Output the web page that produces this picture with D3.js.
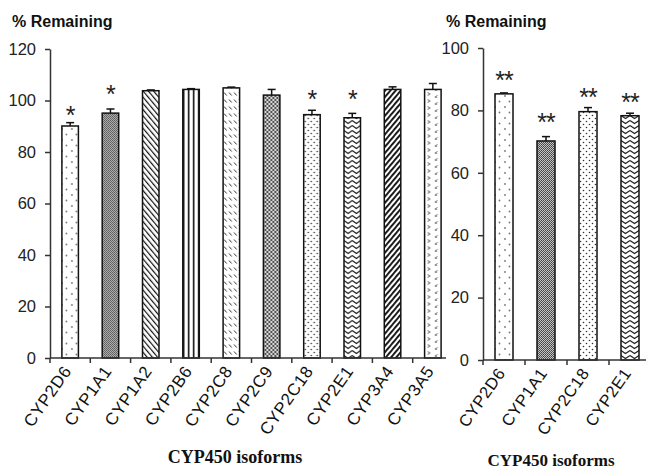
<!DOCTYPE html>
<html>
<head>
<meta charset="utf-8">
<script src="https://cdn.jsdelivr.net/npm/d3@7"></script>
<style>
  body { margin: 0; background: #fff; }
  svg { display: block; }
</style>
</head>
<body>
<div id="vis"></div>
<script>
// data
var leftIsoforms = ["CYP2D6","CYP1A1","CYP1A2","CYP2B6","CYP2C8","CYP2C9","CYP2C18","CYP2E1","CYP3A4","CYP3A5"];
var leftValues   = [90.1, 95.1, 103.8, 104.3, 104.9, 102.1, 94.5, 93.3, 104.3, 104.3];
var leftErrors   = [1.3, 1.6, 0.3, 0.3, 0.3, 2.2, 1.7, 1.7, 1.0, 2.3];
var leftMarks    = ["*","*","","","","","*","*","",""];
var leftMarkAt   = [96, 104, 0, 0, 0, 0, 102, 102, 0, 0];
var leftTicks    = [0, 20, 40, 60, 80, 100, 120];

var rightIsoforms = ["CYP2D6","CYP1A1","CYP2C18","CYP2E1"];
var rightValues   = [85.3, 70.2, 79.6, 78.3];
var rightErrors   = [0.3, 1.4, 1.3, 0.8];
var rightMarks    = ["**","**","**","**"];
var rightMarkAt   = [91, 77.6, 85.6, 84];
var rightTicks    = [0, 20, 40, 60, 80, 100];

var W = 646, H = 469;
var axisColor = "#333";

var svg = d3.select("#vis").append("svg")
    .attr("width", W)
    .attr("height", H);
var defs = svg.append("defs");

// builds a fill pattern for one bar, anchored at the bar's left edge
function makePattern(id, kind, x0, barW){
    var p = defs.append("pattern")
        .attr("id", id)
        .attr("patternUnits", "userSpaceOnUse")
        .attr("x", x0).attr("y", 0);
    if(kind == "CYP2D6"){
        p.attr("width", 10).attr("height", 11);
        p.append("rect").attr("width",10).attr("height",11).attr("fill","#fff");
        p.append("circle").attr("cx",4.5).attr("cy",2.5).attr("r",0.9).attr("fill","#777");
        p.append("circle").attr("cx",10).attr("cy",8).attr("r",0.9).attr("fill","#777");
        p.append("circle").attr("cx",0).attr("cy",8).attr("r",0.9).attr("fill","#777");
    } else if(kind == "CYP1A1"){
        p.attr("width", 2).attr("height", 2);
        p.append("rect").attr("width",2).attr("height",2).attr("fill","#c4c4c4");
        p.append("rect").attr("width",1).attr("height",1).attr("fill","#444");
        p.append("rect").attr("x",1).attr("y",1).attr("width",1).attr("height",1).attr("fill","#555");
    } else if(kind == "CYP1A2" || kind == "CYP3A4"){
        p.attr("width", 4).attr("height", 4)
         .attr("patternTransform", "rotate(" + (kind == "CYP1A2" ? -40 : 40) + ")");
        p.append("rect").attr("width",4).attr("height",4).attr("fill","#fff");
        p.append("rect").attr("width", kind == "CYP1A2" ? 1.2 : 1.9).attr("height",4).attr("fill","#111");
    } else if(kind == "CYP2B6"){
        p.attr("width", 5).attr("height", 4);
        p.append("rect").attr("width",5).attr("height",4).attr("fill","#fff");
        p.append("rect").attr("x",0).attr("width",1.6).attr("height",4).attr("fill","#111");
    } else if(kind == "CYP2C8"){
        p.attr("width", 5).attr("height", 7);
        p.append("rect").attr("width",5).attr("height",7).attr("fill","#fff");
        p.append("line").attr("x1",1).attr("y1",1.5).attr("x2",3.6).attr("y2",4.5)
            .attr("stroke","#333").attr("stroke-width",1);
    } else if(kind == "CYP2C9"){
        p.attr("width", 4).attr("height", 4);
        p.append("rect").attr("width",4).attr("height",4).attr("fill","#d8d8d8");
        p.append("path").attr("d","M0,0L4,4M4,0L0,4").attr("stroke","#444").attr("stroke-width",0.9);
    } else if(kind == "CYP2C18"){
        p.attr("width", 6).attr("height", 6);
        p.append("rect").attr("width",6).attr("height",6).attr("fill","#fff");
        p.append("circle").attr("cx",1.5).attr("cy",1.5).attr("r",0.8).attr("fill","#333");
        p.append("circle").attr("cx",4.5).attr("cy",4.5).attr("r",0.8).attr("fill","#333");
    } else if(kind == "CYP2E1"){
        p.attr("width", barW/2).attr("height", 5);
        p.append("rect").attr("width",barW/2).attr("height",5).attr("fill","#fff");
        p.append("path").attr("d","M0,0.5L" + (barW/4) + ",3.5L" + (barW/2) + ",0.5")
            .attr("fill","none").attr("stroke","#222").attr("stroke-width",1.1);
    } else if(kind == "CYP3A5"){
        p.attr("width", barW).attr("height", 7);
        p.append("rect").attr("width",barW).attr("height",7).attr("fill","#fff");
        p.append("path").attr("d","M3,1.5L5.5,3L3,4.5")
            .attr("fill","none").attr("stroke","#555").attr("stroke-width",0.9);
        p.append("path").attr("d","M" + (barW-3.5) + ",4.5L" + (barW-6) + ",6L" + (barW-3.5) + ",7.5")
            .attr("fill","none").attr("stroke","#555").attr("stroke-width",0.9);
    }
    return "url(#" + id + ")";
}

function drawPanel(cfg){
    var g = svg.append("g");
    var x = d3.scaleBand().domain(cfg.names).range([cfg.x0, cfg.x1]).padding(0);
    var y = d3.scaleLinear().domain([0, cfg.ymax]).range([cfg.y0, cfg.y1]);
    var bw = x.bandwidth();
    var barW = cfg.barW;

    var data = cfg.names.map(function(n, i){
        return {name: n, value: cfg.values[i], err: cfg.errors[i], mark: cfg.marks[i], markAt: cfg.markAt[i]};
    });

    // bars
    g.selectAll(".bar").data(data).enter().append("rect")
        .attr("class", "bar")
        .attr("x", function(d){ return x(d.name) + (bw - barW)/2; })
        .attr("y", function(d){ return y(d.value); })
        .attr("width", barW)
        .attr("height", function(d){ return y(0) - y(d.value); })
        .attr("fill", function(d, i){ return makePattern(cfg.id + "p" + i, d.name, x(d.name) + (bw - barW)/2, barW); })
        .attr("stroke", "#111")
        .attr("stroke-width", 1.5);

    // error bars (upper only)
    var eb = g.selectAll(".err").data(data).enter().append("g").attr("class", "err")
        .attr("stroke", "#111").attr("stroke-width", 1.5);
    eb.append("line")
        .attr("x1", function(d){ return x(d.name) + bw/2; })
        .attr("x2", function(d){ return x(d.name) + bw/2; })
        .attr("y1", function(d){ return y(d.value); })
        .attr("y2", function(d){ return y(d.value + d.err); });
    eb.append("line")
        .attr("x1", function(d){ return x(d.name) + bw/2 - 4; })
        .attr("x2", function(d){ return x(d.name) + bw/2 + 4; })
        .attr("y1", function(d){ return y(d.value + d.err); })
        .attr("y2", function(d){ return y(d.value + d.err); });

    // significance marks
    g.selectAll(".mark").data(data.filter(function(d){ return d.mark != ""; })).enter().append("text")
        .attr("x", function(d){ return x(d.name) + bw/2; })
        .attr("y", function(d){ return y(d.markAt) + 13; })
        .attr("text-anchor", "middle")
        .style("font-family", "'Liberation Sans', Arial, sans-serif")
        .style("font-size", "25px")
        .style("letter-spacing", "-1px")
        .attr("fill", "#222")
        .text(function(d){ return d.mark; });

    // y axis
    var yAxis = g.append("g")
        .attr("transform", "translate(" + cfg.x0 + ",0)")
        .call(d3.axisLeft(y).tickValues(cfg.ticks).tickSize(5).tickSizeOuter(0).tickPadding(9));
    yAxis.select(".domain").attr("stroke", axisColor).attr("stroke-width", 1.5);
    yAxis.selectAll(".tick line").attr("stroke", axisColor).attr("stroke-width", 1.5);
    yAxis.selectAll(".tick text")
        .style("font-family", "'Liberation Sans', Arial, sans-serif")
        .style("font-size", "16.5px")
        .attr("fill", "#222");

    // x axis: line plus ticks at band boundaries
    g.append("line")
        .attr("x1", cfg.x0).attr("x2", cfg.xLineEnd)
        .attr("y1", y(0)).attr("y2", y(0))
        .attr("stroke", axisColor).attr("stroke-width", 1.5);
    g.selectAll(".xtick").data(cfg.names).enter().append("line")
        .attr("x1", function(d){ return x(d); }).attr("x2", function(d){ return x(d); })
        .attr("y1", y(0)).attr("y2", y(0) + 5)
        .attr("stroke", axisColor).attr("stroke-width", 1.5);
    g.selectAll(".xlab").data(cfg.names).enter().append("text")
        .attr("transform", function(d){
            return "translate(" + (x(d) + bw/2 + 2) + "," + (y(0) + 13) + ") rotate(-55)";
        })
        .attr("text-anchor", "end")
        .style("font-family", "'Liberation Sans', Arial, sans-serif")
        .style("font-size", cfg.labelSize + "px")
        .style("letter-spacing", "0.6px")
        .attr("fill", "#111")
        .text(function(d){ return d; });

    // titles
    g.append("text")
        .attr("x", cfg.titleX).attr("y", 27)
        .style("font-family", "'Liberation Sans', Arial, sans-serif")
        .style("font-size", "16px").style("font-weight", "bold")
        .attr("fill", "#111")
        .text("% Remaining");
    g.append("text")
        .attr("x", cfg.xTitleX).attr("y", cfg.xTitleY)
        .attr("text-anchor", "middle")
        .style("font-family", "'Liberation Serif', 'Times New Roman', serif")
        .style("font-size", cfg.xTitleSize + "px").style("font-weight", "bold")
        .attr("fill", "#111")
        .text("CYP450 isoforms");
}

drawPanel({
    id: "L", names: leftIsoforms, values: leftValues, errors: leftErrors,
    marks: leftMarks, markAt: leftMarkAt, ticks: leftTicks, ymax: 120,
    x0: 50, x1: 453, xLineEnd: 446, y0: 358, y1: 49, barW: 16.5, labelSize: 17,
    titleX: 12, xTitleX: 235, xTitleY: 463, xTitleSize: 18
});
drawPanel({
    id: "R", names: rightIsoforms, values: rightValues, errors: rightErrors,
    marks: rightMarks, markAt: rightMarkAt, ticks: rightTicks, ymax: 100,
    x0: 483, x1: 651, xLineEnd: 651, y0: 360, y1: 48, barW: 18, labelSize: 16.5,
    titleX: 446, xTitleX: 551, xTitleY: 466, xTitleSize: 17
});
</script>
</body>
</html>
